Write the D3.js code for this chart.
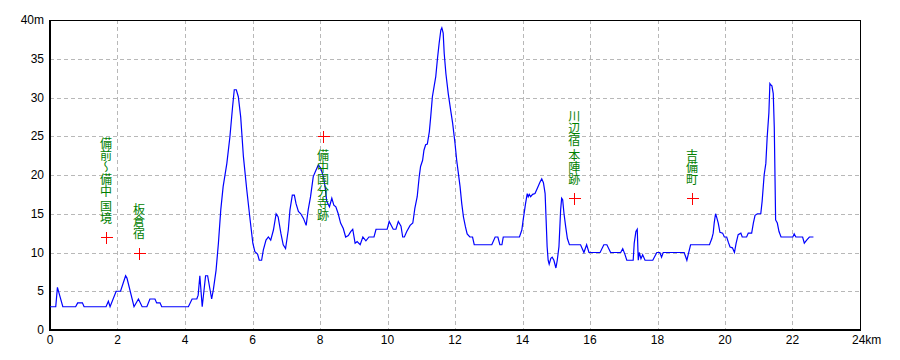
<!DOCTYPE html>
<html>
<head>
<meta charset="utf-8">
<script src="https://d3js.org/d3.v7.min.js"></script>
<style>
	body { margin: 0; background: #fff; }
	svg { display: block; }
	.tick-label { font-family: "Liberation Sans Narrow", "Liberation Sans", sans-serif; font-size: 12px; fill: #000; }
	.place { font-family: "Noto Sans CJK JP", sans-serif; font-size: 12px; fill: #008000; }
</style>
</head>
<body>
<svg width="900" height="360"></svg>
<script>
// elevation profile, distance in km, height in m
var distKm = [0, 0.17, 0.22, 0.38, 0.76, 0.82, 0.96, 1.01, 1.66, 1.73, 1.78, 1.96, 2.09, 2.24, 2.28, 2.49, 2.62, 2.73, 2.87, 2.96,
	3.11, 3.16, 3.26, 3.31, 4.10, 4.21, 4.35, 4.39, 4.44, 4.51, 4.61, 4.67, 4.79, 4.84, 4.92, 4.99, 5.06, 5.13, 5.24, 5.33,
	5.41, 5.46, 5.52, 5.58, 5.65, 5.73, 5.83, 5.93, 6.01, 6.07, 6.15, 6.20, 6.27, 6.32, 6.40, 6.47, 6.54, 6.62, 6.70, 6.76,
	6.84, 6.91, 6.98, 7.06, 7.11, 7.18, 7.24, 7.29, 7.36, 7.43, 7.51, 7.59, 7.65, 7.72, 7.80, 7.88, 7.95, 8.02, 8.10, 8.15,
	8.20, 8.28, 8.35, 8.41, 8.47, 8.54, 8.61, 8.69, 8.76, 8.84, 8.91, 8.97, 9.04, 9.10, 9.19, 9.27, 9.36, 9.45, 9.60, 9.66,
	9.99, 10.05, 10.17, 10.25, 10.32, 10.40, 10.45, 10.50, 10.57, 10.67, 10.75, 10.81, 10.88, 10.94, 10.98, 11.04, 11.08, 11.13, 11.18, 11.24,
	11.28, 11.33, 11.38, 11.43, 11.48, 11.53, 11.58, 11.61, 11.65, 11.68, 11.73, 11.80, 11.87, 11.93, 12.00, 12.05, 12.10, 12.15, 12.20, 12.25,
	12.31, 12.36, 12.44, 12.52, 12.57, 13.09, 13.19, 13.27, 13.33, 13.39, 13.43, 13.91, 13.98, 14.02, 14.09, 14.14, 14.17, 14.20, 14.24, 14.30,
	14.37, 14.44, 14.52, 14.57, 14.62, 14.67, 14.70, 14.73, 14.76, 14.79, 14.84, 14.88, 14.93, 14.99, 15.03, 15.08, 15.13, 15.16, 15.19, 15.23,
	15.28, 15.33, 15.39, 15.72, 15.82, 15.90, 15.97, 16.30, 16.41, 16.50, 16.61, 16.91, 16.97, 17.04, 17.09, 17.28, 17.31, 17.36, 17.40, 17.43,
	17.46, 17.51, 17.56, 17.63, 17.86, 17.98, 18.07, 18.12, 18.17, 18.79, 18.87, 18.98, 19.54, 19.61, 19.65, 19.68, 19.72, 19.75, 19.80, 19.85,
	19.93, 19.98, 20.05, 20.10, 20.15, 20.22, 20.28, 20.33, 20.39, 20.47, 20.51, 20.64, 20.69, 20.79, 20.84, 20.89, 20.96, 21.06, 21.10, 21.16,
	21.21, 21.25, 21.30, 21.33, 21.36, 21.39, 21.43, 21.46, 21.50, 21.55, 21.60, 21.66, 22.01, 22.05, 22.10, 22.30, 22.35, 22.42, 22.50, 22.62];
var heightM = [3, 3, 5.5, 3, 3, 3.5, 3.5, 3, 3, 3.7, 3, 5, 5, 7, 6.7, 3, 4, 3, 3, 4,
	4, 3.5, 3.5, 3, 3, 4, 4, 4.5, 7, 3, 7, 7, 4, 5.2, 7.7, 11.2, 15.5, 18.5, 21.5, 24.9,
	28.8, 31, 31, 30.1, 27.5, 22.4, 18.1, 14.2, 11.2, 10.1, 9.8, 9, 9, 10.3, 11.6, 12, 11.6, 12.9, 15, 14.6,
	12.5, 11, 10.5, 12.9, 15.5, 17.4, 17.4, 16.3, 15.3, 15, 14.4, 13.5, 15.5, 17.2, 19.8, 20.6, 21.3, 20.9, 19.8, 18.5,
	16.6, 15.9, 17, 16.1, 15.9, 15, 13.8, 13.1, 12, 12.2, 12.7, 13, 11.2, 11.4, 11, 12, 11.5, 12, 12, 13,
	13, 14, 13, 13, 14, 13.4, 12, 12, 12.7, 13.5, 13.8, 15.7, 17.2, 19.8, 21.1, 21.9, 23.2, 23.9, 24, 25.6,
	27.5, 30.1, 31.4, 32.7, 35, 37, 38.7, 39, 38.3, 35.7, 33.1, 30.5, 28.4, 26.7, 24.1, 21.9, 20.2, 18.5, 16.3, 14.6,
	13.3, 12.4, 12, 12, 11, 11, 12, 12, 11, 11, 12, 12, 12.9, 14.2, 16.3, 17.6, 17.2, 17.5, 17.2, 17.5,
	17.6, 18.3, 19.1, 19.5, 19, 17.6, 14.2, 10.75, 9, 8.5, 9.25, 9.4, 9, 8, 9, 10.75, 15.5, 17, 16.8, 15,
	13.3, 11.8, 11, 11, 10, 11, 10, 10, 11, 11, 10, 10, 10.5, 9.7, 9, 9, 11.2, 12.7, 13, 9,
	10, 9.2, 9.7, 9, 9, 10, 10, 9.4, 10, 10, 9, 11, 11, 11.8, 12.5, 13.8, 15, 14.6, 13.8, 12.6,
	12.5, 12, 12, 11.3, 10.7, 10.6, 10, 11.2, 12.3, 12.5, 12, 12, 12.5, 12.5, 13.8, 14.8, 15, 15, 16.6, 20,
	21.5, 24.9, 28, 31.8, 31.6, 31.5, 30.5, 26.2, 14.2, 13.8, 12.7, 12, 12, 12.4, 12, 12, 11.2, 11.6, 12, 12];

// landmarks
var markKm = [1.66, 2.64, 8.09, 15.53, 19.02];
var markM = [12, 10, 25, 17, 17];
var markName = ["備前～備中 国境", "板倉宿", "備中国分寺跡", "川辺宿 本陣跡", "吉備町"];
var markBelow = [false, false, true, false, false];

var xTicks = [0, 2, 4, 6, 8, 10, 12, 14, 16, 18, 20, 22, 24];
var yTicks = [0, 5, 10, 15, 20, 25, 30, 35, 40];

(function() {
	var svg = d3.select("svg");
	var left = 50, right = 860, top = 20, bottom = 330;

	var x = d3.scaleLinear().domain([0, 24]).range([left, right]);
	var y = d3.scaleLinear().domain([0, 40]).range([bottom, top]);

	// grid
	var grid = svg.append("g")
		.attr("stroke", "#b8b8b8")
		.attr("stroke-dasharray", "4,3")
		.attr("shape-rendering", "crispEdges");

	grid.selectAll(".vg")
		.data(xTicks.slice(1, -1))
		.enter().append("line")
		.attr("x1", function(d) { return Math.round(x(d)) + 0.5; })
		.attr("x2", function(d) { return Math.round(x(d)) + 0.5; })
		.attr("y1", top)
		.attr("y2", bottom);

	grid.selectAll(".hg")
		.data(yTicks.slice(1, -1))
		.enter().append("line")
		.attr("y1", function(d) { return Math.round(y(d)) + 0.5; })
		.attr("y2", function(d) { return Math.round(y(d)) + 0.5; })
		.attr("x1", left)
		.attr("x2", right);

	// frame
	svg.append("rect")
		.attr("x", left + 0.5)
		.attr("y", top + 0.5)
		.attr("width", right - left)
		.attr("height", bottom - top)
		.attr("fill", "none")
		.attr("stroke", "#000")
		.attr("shape-rendering", "crispEdges");

	svg.append("path")
		.attr("d", "M" + left + "," + top + "V" + bottom + "H" + right)
		.attr("fill", "none")
		.attr("stroke", "#000")
		.attr("stroke-width", 2)
		.attr("shape-rendering", "crispEdges");

	// tick labels
	svg.selectAll(".xl")
		.data(xTicks)
		.enter().append("text")
		.attr("class", "tick-label")
		.attr("x", function(d) { return x(d); })
		.attr("y", 344)
		.attr("text-anchor", function(d) { return d == 24 ? "start" : "middle"; })
		.attr("dx", function(d) { return d == 24 ? -8 : 0; })
		.text(function(d) { return d == 24 ? d + "km" : d; });

	svg.selectAll(".yl")
		.data(yTicks)
		.enter().append("text")
		.attr("class", "tick-label")
		.attr("x", 44)
		.attr("y", function(d) { return y(d) + 4; })
		.attr("text-anchor", "end")
		.text(function(d) { return d == 40 ? d + "m" : d; });

	// profile
	var pts = distKm.map(function(d, i) { return [d, heightM[i]]; });
	var line = d3.line()
		.x(function(d) { return x(d[0]); })
		.y(function(d) { return y(d[1]); });

	svg.append("path")
		.datum(pts)
		.attr("d", line)
		.attr("fill", "none")
		.attr("stroke", "#0000ff")
		.attr("stroke-width", 1.2);

	// landmarks
	var marks = markKm.map(function(d, i) {
		return { km: d, m: markM[i], name: markName[i], below: markBelow[i] };
	});

	var mk = svg.selectAll(".mark")
		.data(marks)
		.enter().append("g");

	mk.append("path")
		.attr("d", function(d) {
			var cx = Math.round(x(d.km)) + 0.5, cy = Math.round(y(d.m)) + 0.5;
			return "M" + (cx - 6) + "," + cy + "H" + (cx + 6) + "M" + cx + "," + (cy - 6) + "V" + (cy + 6);
		})
		.attr("fill", "none")
		.attr("stroke", "#ff0000")
		.attr("stroke-width", 1)
		.attr("shape-rendering", "crispEdges");

	mk.append("text")
		.attr("class", "place")
		.style("writing-mode", "vertical-rl")
		.attr("x", function(d) { return x(d.km); })
		.attr("y", function(d) { return d.below ? y(d.m) + 13 : y(d.m) - 13; })
		.attr("text-anchor", function(d) { return d.below ? "start" : "end"; })
		.text(function(d) { return d.name; });
})();
</script>
</body>
</html>
